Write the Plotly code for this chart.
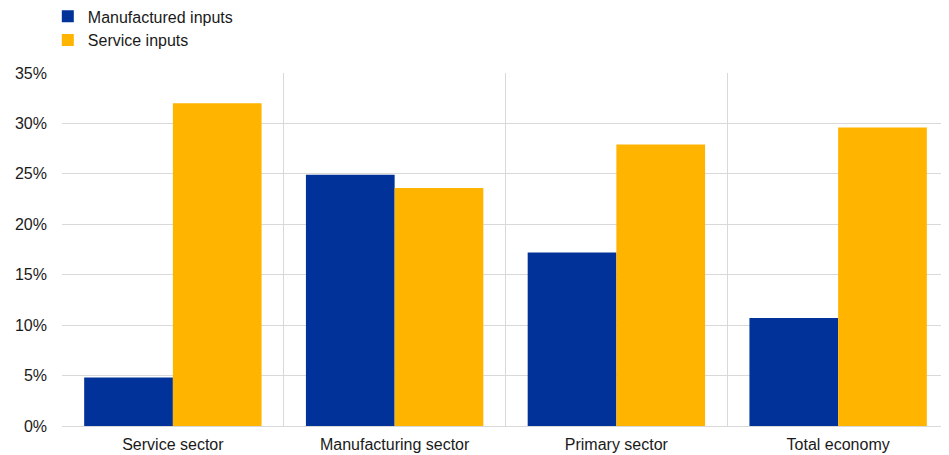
import plotly.graph_objects as go

categories = ["Service sector", "Manufacturing sector", "Primary sector", "Total economy"]
manufactured_inputs = [4.8, 24.9, 17.2, 10.7]
service_inputs = [32.0, 23.6, 27.9, 29.6]
y_ticks = [0, 5, 10, 15, 20, 25, 30, 35]
y_tick_labels = [f"{v}%" for v in y_ticks]

fig = go.Figure()
fig.add_trace(go.Bar(name="Manufactured inputs", x=categories, y=manufactured_inputs,
                     marker=dict(color="#003299", line=dict(width=0))))
fig.add_trace(go.Bar(name="Service inputs", x=categories, y=service_inputs,
                     marker=dict(color="#FFB400", line=dict(width=0))))

font_family = "Liberation Sans, Arial, sans-serif"
# page body has an 8px margin: figure is sized/margined to compensate
fig.update_layout(
    width=941, height=447,
    margin=dict(l=54, r=0, t=65, b=29, autoexpand=False),
    paper_bgcolor="white", plot_bgcolor="white",
    barmode="group", bargap=0.2, bargroupgap=0,
    font=dict(family=font_family, size=16, color="#1a1a1a"),
    legend=dict(x=-0.016, y=1.2085, xanchor="left", yanchor="top",
                font=dict(size=16), bgcolor="rgba(0,0,0,0)", tracegroupgap=0),
    xaxis=dict(tickson="boundaries", showgrid=True, gridcolor="#d9d9d9", gridwidth=1,
               ticks="", showline=True, linecolor="#d9d9d9", linewidth=1,
               ticklabelstandoff=4, tickfont=dict(size=16), range=[-0.5, 3.5]),
    yaxis=dict(range=[0, 35], tickvals=y_ticks, ticktext=y_tick_labels,
               showgrid=True, gridcolor="#d9d9d9", gridwidth=1, zeroline=False,
               ticks="", ticklabelstandoff=14, tickfont=dict(size=16)),
)

fig.write_html("out.html")
